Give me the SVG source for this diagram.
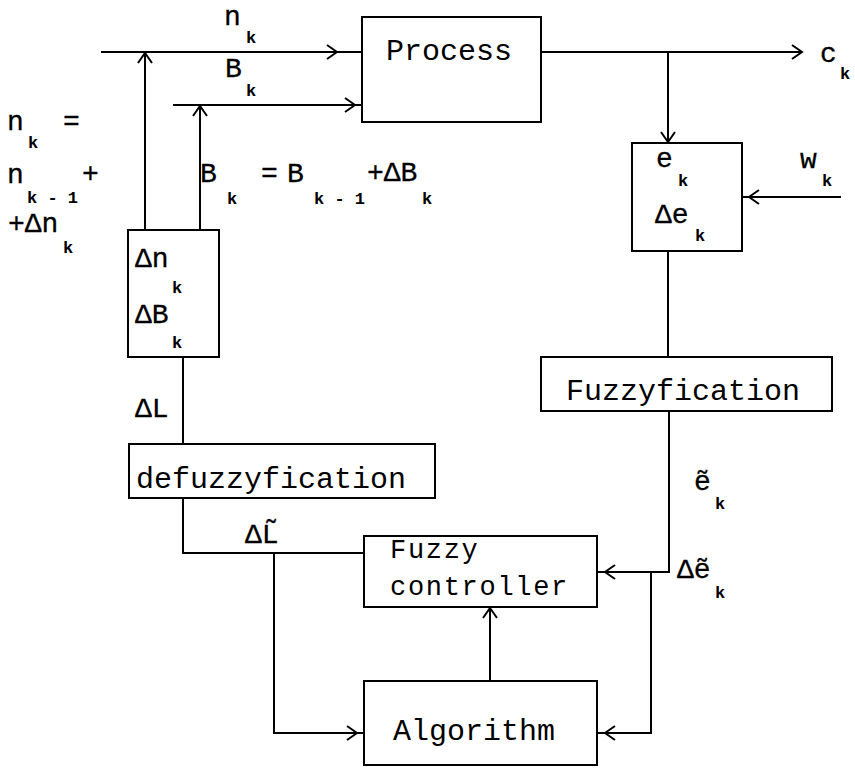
<svg xmlns="http://www.w3.org/2000/svg" xmlns:xlink="http://www.w3.org/1999/xlink" width="855" height="768" viewBox="0 0 855 768">
  <style>
    .box { fill: #fff; stroke: #000; stroke-width: 2; }
    .wire { fill: none; stroke: #000; stroke-width: 2; }
    .name { font-family: "Liberation Mono", "DejaVu Sans Mono", monospace; font-size: 30px; fill: #000; }
    .lbl { font-family: "Liberation Mono", "DejaVu Sans Mono", monospace; font-size: 28px; fill: #000; stroke: #000; stroke-width: 0.3px; }
    .sub { font-family: "Liberation Mono", "DejaVu Sans Mono", monospace; font-size: 17px; font-weight: bold; fill: #000; }
  </style>
  <defs>
    <!-- open chevron arrowhead, tip at origin, pointing along +x -->
    <path id="chev" d="M-10,-7 L0,0 L-10,7" fill="none" stroke="#000" stroke-width="2"/>
  </defs>
  <rect width="855" height="768" fill="#fff"/>

  <g id="connectors">
    <!-- inputs into the process -->
    <path class="wire" d="M101,52 H362"/>
    <path class="wire" d="M173,105 H362"/>
    <path class="wire" d="M145,230 V52"/>
    <path class="wire" d="M200,230 V105"/>
    <use xlink:href="#chev" transform="translate(337,52)"/>
    <use xlink:href="#chev" transform="translate(355,105)"/>
    <use xlink:href="#chev" transform="translate(145,53) rotate(-90)"/>
    <use xlink:href="#chev" transform="translate(200,106) rotate(-90)"/>
    <!-- process output and error path -->
    <path class="wire" d="M541,52 H802"/>
    <use xlink:href="#chev" transform="translate(802,52)"/>
    <path class="wire" d="M668,52 V143"/>
    <use xlink:href="#chev" transform="translate(668,142) rotate(90)"/>
    <path class="wire" d="M841,197 H742"/>
    <use xlink:href="#chev" transform="translate(749,197) rotate(180)"/>
    <path class="wire" d="M668,251 V357"/>
    <!-- fuzzified error into controller and algorithm -->
    <path class="wire" d="M669,411 V572 H597"/>
    <use xlink:href="#chev" transform="translate(605,572) rotate(180)"/>
    <path class="wire" d="M651,572 V733 H597"/>
    <use xlink:href="#chev" transform="translate(605,733) rotate(180)"/>
    <!-- algorithm to controller -->
    <path class="wire" d="M490,681 V607"/>
    <use xlink:href="#chev" transform="translate(490,608) rotate(-90)"/>
    <!-- controller output, defuzzification and correction block -->
    <path class="wire" d="M364,553 H183 V498"/>
    <path class="wire" d="M274,553 V733 H364"/>
    <use xlink:href="#chev" transform="translate(357,733)"/>
    <path class="wire" d="M183,444 V357"/>
  </g>

  <g id="process">
    <rect class="box" x="362" y="17" width="179" height="105"/>
    <text class="name" x="386" y="60">Process</text>
  </g>

  <g id="error">
    <rect class="box" x="632" y="143" width="110" height="108"/>
    <text class="lbl" x="656" y="167">e</text><text class="sub" x="678" y="186">k</text>
    <text class="lbl" x="655" y="223">Δe</text><text class="sub" x="695" y="241">k</text>
  </g>

  <g id="fuzzyfication">
    <rect class="box" x="541" y="357" width="291" height="54"/>
    <text class="name" x="566" y="400">Fuzzyfication</text>
  </g>

  <g id="controller">
    <rect class="box" x="364" y="536" width="233" height="71"/>
    <text class="name" x="390" y="558" style="font-size:27px;letter-spacing:1.7px">Fuzzy</text>
    <text class="name" x="390" y="595" style="font-size:27px;letter-spacing:1.7px">controller</text>
  </g>

  <g id="algorithm">
    <rect class="box" x="364" y="681" width="233" height="84"/>
    <text class="name" x="393" y="740">Algorithm</text>
  </g>

  <g id="defuzzyfication">
    <rect class="box" x="129" y="444" width="306" height="54"/>
    <text class="name" x="136" y="488">defuzzyfication</text>
  </g>

  <g id="increments">
    <rect class="box" x="128" y="230" width="91" height="127"/>
    <text class="lbl" x="135" y="267">Δn</text><text class="sub" x="172" y="293">k</text>
    <text class="lbl" x="135" y="323">ΔB</text><text class="sub" x="172" y="348">k</text>
  </g>

  <g id="labels">
    <text class="lbl" x="224" y="25">n</text><text class="sub" x="246" y="43">k</text>
    <text class="lbl" x="225" y="77">B</text><text class="sub" x="246" y="96">k</text>

    <text class="lbl" x="7" y="130">n</text><text class="sub" x="28" y="148">k</text>
    <text class="lbl" x="63" y="130">=</text>
    <text class="lbl" x="7" y="183">n</text><text class="sub" x="27" y="203">k - 1</text>
    <text class="lbl" x="82" y="182">+</text>
    <text class="lbl" x="8" y="232">+Δn</text><text class="sub" x="63" y="253">k</text>

    <text class="lbl" x="200" y="182">B</text><text class="sub" x="227" y="204">k</text>
    <text class="lbl" x="261" y="182">=</text>
    <text class="lbl" x="287" y="182">B</text><text class="sub" x="314" y="204">k - 1</text>
    <text class="lbl" x="367" y="181">+ΔB</text><text class="sub" x="422" y="204">k</text>

    <text class="lbl" x="800" y="168">w</text><text class="sub" x="822" y="186">k</text>
    <text class="lbl" x="820" y="62">c</text><text class="sub" x="840" y="79">k</text>

    <text class="lbl" x="135" y="417">ΔL</text>
    <text class="lbl" x="245" y="543">ΔL&#x0303;</text>

    <text class="lbl" x="694" y="490">&#x1EBD;</text><text class="sub" x="715" y="509">k</text>
    <text class="lbl" x="677" y="578">Δ&#x1EBD;</text><text class="sub" x="715" y="598">k</text>
  </g>
</svg>
